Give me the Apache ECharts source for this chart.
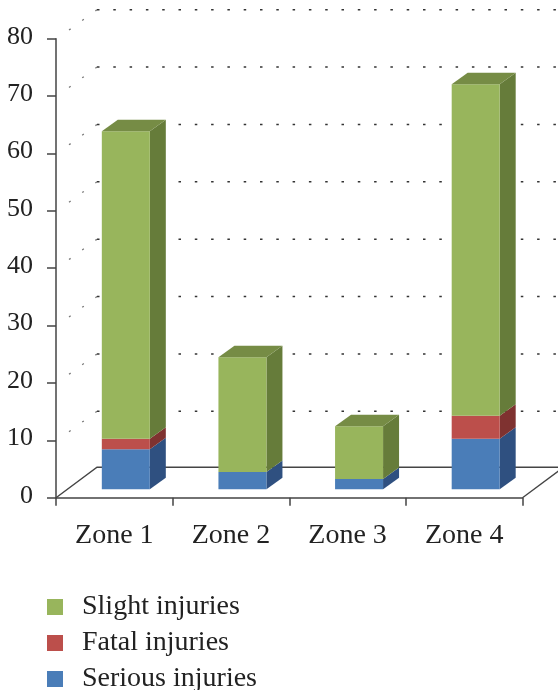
<!DOCTYPE html>
<html>
<head>
<meta charset="utf-8">
<script src="https://cdn.jsdelivr.net/npm/echarts@6/dist/echarts.min.js"></script>
<style>
  html, body { margin: 0; padding: 0; background: #fff; }
  #chart { width: 558px; height: 690px; }
</style>
</head>
<body>
<div id="chart"></div>
<script>
var zones = ['Zone 1', 'Zone 2', 'Zone 3', 'Zone 4'];
var serious = [7, 3, 1.8, 8.8];
var fatal = [1.8, 0, 0, 4];
var slight = [53.6, 20, 9.2, 57.8];
var gridValues = [10, 20, 30, 40, 50, 60, 70, 80];

// fake 3d: how far the back wall and the bars sit from the front plane
var wallDx = 41, wallDy = -29;
var barShiftX = 11.5, barShiftY = -8.4;
var depthX = 16, depthY = -11.5;
var barWidth = 48;
var font = '"Liberation Serif", serif';

var myChart = echarts.init(document.getElementById('chart'));

function makeBarSeries(name, values, bases, front, side, top, hasTop) {
  return {
    name: name,
    type: 'custom',
    clip: false,
    z: 5,
    itemStyle: { color: front },
    encode: { x: 0, y: [1, 2] },
    data: values.map(function (v, i) { return [i, bases[i], bases[i] + v]; }),
    renderItem: function (params, api) {
      if (api.value(2) <= api.value(1)) return null;
      var a = api.coord([api.value(0), api.value(1)]);
      var b = api.coord([api.value(0), api.value(2)]);
      var x0 = a[0] - barWidth / 2 + barShiftX, x1 = x0 + barWidth;
      var y0 = a[1] + barShiftY, y1 = b[1] + barShiftY;
      var children = [
        { type: 'polygon', shape: { points: [[x1, y0], [x1 + depthX, y0 + depthY], [x1 + depthX, y1 + depthY], [x1, y1]] }, style: { fill: side } },
        { type: 'rect', shape: { x: x0, y: y1, width: barWidth, height: y0 - y1 }, style: { fill: front } }
      ];
      if (hasTop) {
        children.push({ type: 'polygon', shape: { points: [[x0, y1], [x1, y1], [x1 + depthX, y1 + depthY], [x0 + depthX, y1 + depthY]] }, style: { fill: top } });
      }
      return { type: 'group', children: children };
    }
  };
}

var base1 = serious;
var base2 = serious.map(function (v, i) { return v + fatal[i]; });
var zeros = serious.map(function () { return 0; });

var option = {
  animation: false,
  backgroundColor: '#fff',
  grid: { left: 56, right: 35.5, top: 38.7, bottom: 192.3, containLabel: false },
  legend: {
    orient: 'vertical',
    left: 47,
    top: 593,
    height: 130,
    padding: 0,
    icon: 'rect',
    itemWidth: 16,
    itemHeight: 16,
    itemGap: 8,
    selectedMode: false,
    textStyle: { fontFamily: font, fontSize: 28, color: '#222', padding: [0, 0, 0, 14] },
    data: ['Slight injuries', 'Fatal injuries', 'Serious injuries']
  },
  xAxis: {
    type: 'category',
    data: zones,
    axisLine: { lineStyle: { color: '#444', width: 1.5 } },
    axisTick: { show: true, length: 8, lineStyle: { color: '#444', width: 1.5 } },
    axisLabel: { fontFamily: font, fontSize: 28, color: '#222', margin: 24 }
  },
  yAxis: {
    type: 'value',
    min: 0,
    max: 80,
    interval: 10,
    splitLine: { show: false },
    axisLine: { show: true, lineStyle: { color: '#444', width: 1.5 } },
    axisTick: { show: true, length: 9, lineStyle: { color: '#444', width: 1.5 } },
    axisLabel: { fontFamily: font, fontSize: 26, color: '#222', margin: 23, verticalAlign: 'bottom', lineHeight: 4 }
  },
  series: [
    {
      // dotted grid lines on the back and side walls
      type: 'custom',
      clip: false,
      z: 1,
      silent: true,
      data: gridValues.map(function (v) { return [0, v]; }),
      encode: { x: 0, y: 1 },
      renderItem: function (params, api) {
        var p = api.coord([0, api.value(1)]);
        var left = p[0] - api.size([1, 0])[0] / 2;
        var bx = left + wallDx, by = p[1] + wallDy;
        return {
          type: 'group',
          children: [
            { type: 'line', shape: { x1: bx, y1: by, x2: 570, y2: by }, style: { stroke: '#333', lineWidth: 1.5, lineDash: [2.5, 13.8], fill: null } },
            { type: 'line', shape: { x1: bx, y1: by, x2: left + 8, y2: p[1] - 5 }, style: { stroke: '#777', lineWidth: 1.3, lineDash: [2, 14.3], fill: null } }
          ]
        };
      }
    },
    {
      // floor outline
      type: 'custom',
      clip: false,
      z: 2,
      silent: true,
      data: [[0, 0]],
      encode: { x: 0, y: 1 },
      renderItem: function (params, api) {
        var p = api.coord([0, 0]);
        var left = p[0] - api.size([1, 0])[0] / 2;
        return {
          type: 'polyline',
          shape: { points: [[left, p[1]], [left + wallDx, p[1] + wallDy - 1.5], [570, p[1] + wallDy - 1.5]] },
          style: { stroke: '#444', lineWidth: 1.4, fill: null }
        };
      }
    },
    {
      type: 'custom',
      clip: false,
      z: 2,
      silent: true,
      data: [[zones.length - 1, 0]],
      encode: { x: 0, y: 1 },
      renderItem: function (params, api) {
        var p = api.coord([api.value(0), 0]);
        var right = p[0] + api.size([1, 0])[0] / 2;
        return {
          type: 'line',
          shape: { x1: right, y1: p[1], x2: right + wallDx, y2: p[1] + wallDy - 1.5 },
          style: { stroke: '#444', lineWidth: 1.4, fill: null }
        };
      }
    },
    makeBarSeries('Serious injuries', serious, zeros, '#4A7DB8', '#2F5080', '#2F5080', false),
    makeBarSeries('Fatal injuries', fatal, base1, '#BC4F4B', '#7F3230', '#7F3230', false),
    makeBarSeries('Slight injuries', slight, base2, '#98B55C', '#667C3A', '#768C45', true)
  ]
};

myChart.setOption(option);
</script>
</body>
</html>
